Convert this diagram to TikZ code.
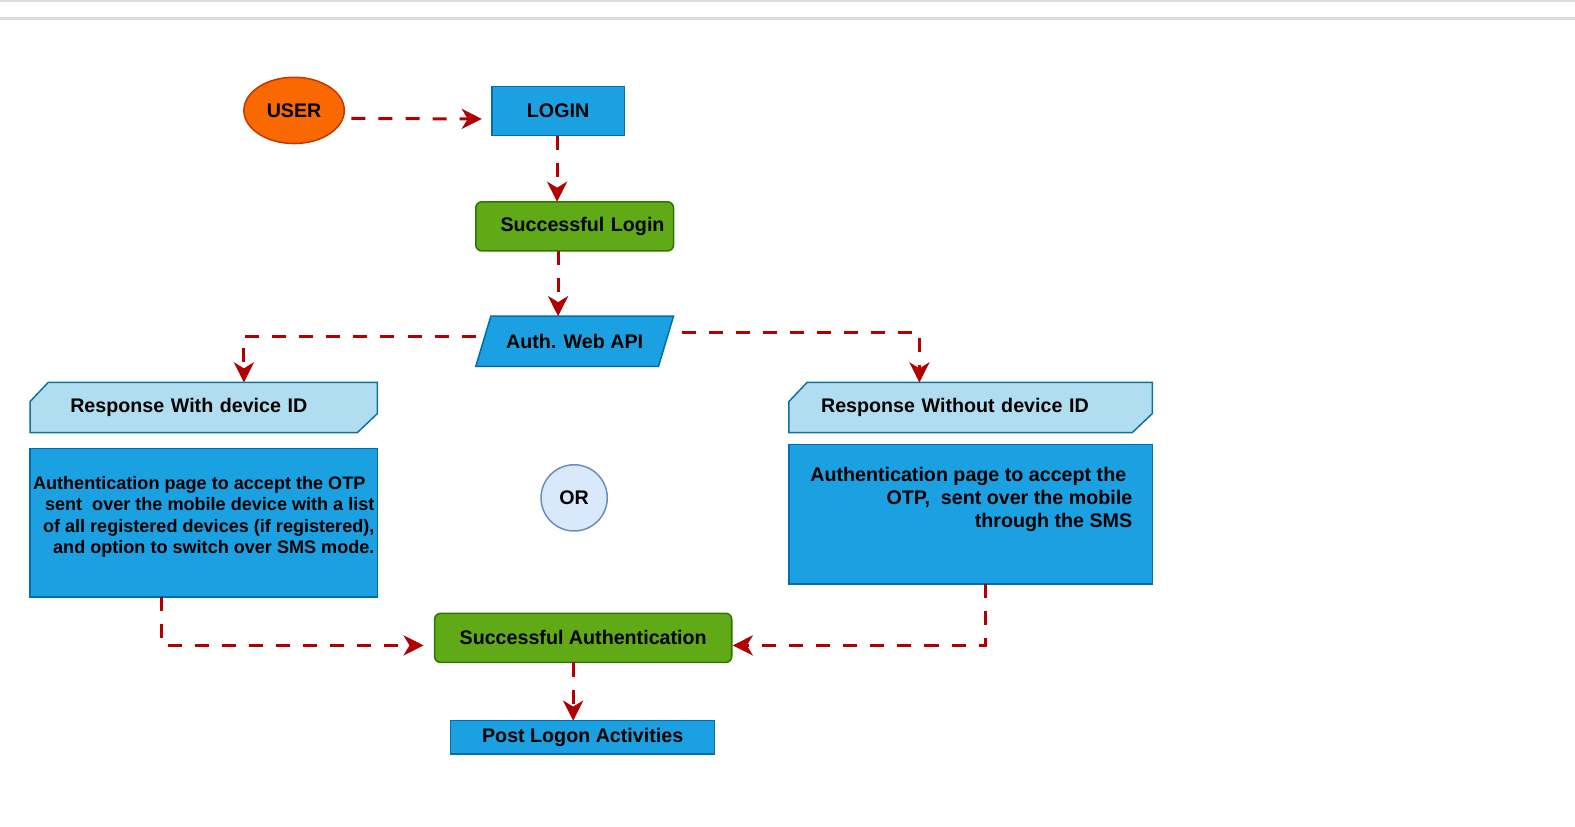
\documentclass[tikz,border=0pt]{standalone}
\usepackage{fontspec}
\setmainfont{Liberation Sans}
\usepackage{xcolor}
\usepackage{tikz}
\usetikzlibrary{shapes.geometric}
\usetikzlibrary{arrows.meta}
\definecolor{boxblue}{HTML}{1BA1E2}
\definecolor{blueline}{HTML}{006EAF}
\definecolor{boxgreen}{HTML}{60A917}
\definecolor{greenline}{HTML}{2D7600}
\definecolor{useror}{HTML}{FA6800}
\definecolor{userline}{HTML}{C73500}
\definecolor{hdrfill}{HTML}{B1DDF0}
\definecolor{hdrline}{HTML}{10739E}
\definecolor{orfill}{HTML}{DAE8FC}
\definecolor{orline}{HTML}{6C8EBF}
\definecolor{arrowred}{HTML}{B20000}
\pgfdeclarelayer{background}
\pgfsetlayers{background,main}

\begin{document}
\begin{tikzpicture}[x=0.5pt, y=-0.5pt,
	every node/.style={font=\fontsize{9.8}{11.5}\selectfont\bfseries, text=black, line width=0.75pt, outer sep=0pt},
	bluebox/.style={rectangle, draw=blueline, fill=boxblue},
	greenbox/.style={rectangle, rounded corners=3pt, draw=greenline, fill=boxgreen},
	hdrbox/.style={rectangle, minimum height=25pt, align=left},
	hdrshape/.style={draw=hdrline, fill=hdrfill, line width=0.75pt},
	flow/.style={draw=arrowred, line width=1.5pt, dash pattern=on 7pt off 6.5pt, -{Stealth[length=10pt, width=10pt, inset=3pt]}}]
	\useasboundingbox (0,0) rectangle (1569.1,823.9);
	\draw[black!14, line width=1pt] (0,0.5) -- (1575,0.5);
	\draw[black!14, line width=1.5pt] (0,18.5) -- (1575,18.5);
	
	% Nodes
	\node[ellipse, draw=userline, fill=useror, minimum width=50pt, minimum height=33pt] (1) at (293,110) {USER};
	\node[bluebox, minimum width=66pt, minimum height=24.5pt] (2) at (556,110.5) {LOGIN};
	\node[greenbox, minimum height=24.5pt, text width=89.5pt, inner xsep=4.5pt, align=right] (3) at (572.5,225.5) {Successful Login};
	\node[trapezium, trapezium left angle=61.6, trapezium right angle=118.4, trapezium stretches body, draw=blueline, fill=boxblue, minimum width=98.5pt, minimum height=25pt] (4) at (572.5,340) {Auth. Web API};
	
	\node[hdrbox, text width=133pt, inner xsep=20pt] (5) at (203,406) {Response With device ID};
	\node[bluebox, minimum width=173pt, minimum height=74pt] (6) at (203,521) {};
	\node[anchor=north east, align=right, inner sep=0pt, font=\fontsize{9}{10.5}\selectfont\bfseries] (6t) at (373,475) {Authentication page to accept the OTP\hspace*{4.5pt}\\ sent\ \ over the mobile device with a list\hspace*{2pt}\\ of all registered devices (if registered),\\ and option to switch over SMS mode.};
	
	\node[hdrbox, text width=149pt, inner xsep=16pt] (7) at (967,406) {Response Without device ID};
	\node[bluebox, minimum width=181pt, minimum height=69.5pt] (8) at (967,512.5) {};
	\node[anchor=north east, align=right, inner sep=0pt] (8t) at (1128,465) {Authentication page to accept the\hspace*{3pt}\\ OTP,\ \ sent over the mobile\\ through the SMS};
	
	\node[circle, draw=orline, fill=orfill, minimum size=33pt, inner sep=0pt] (9) at (572,496) {OR};
	\node[greenbox, minimum width=148pt, minimum height=24.5pt] (10) at (581,635.5) {Successful Authentication};
	\node[bluebox, minimum width=131.5pt, minimum height=16.5pt, inner ysep=0pt] (11) at (580.5,734.5) {Post Logon Activities};
	
	% Cut corner headers
	\begin{pgfonlayer}{background}
		\filldraw[hdrshape] ([yshift=-9.5pt]5.north west) -- ([xshift=9pt]5.north west) -- (5.north east) -- ([yshift=9.5pt]5.south east) -- ([xshift=-10pt]5.south east) -- (5.south west) -- cycle;
		\filldraw[hdrshape] ([yshift=-9.5pt]7.north west) -- ([xshift=9pt]7.north west) -- (7.north east) -- ([yshift=9.5pt]7.south east) -- ([xshift=-10pt]7.south east) -- (7.south west) -- cycle;
	\end{pgfonlayer}
	
	% Dashed arrows
	\draw[flow] ([shift={(3.5pt,-4pt)}]1.east) -- ([shift={(-5pt,-4pt)}]2.west);
	\draw[flow] ([xshift=-0.5pt]2.south) -- ([xshift=-0.5pt]2.south |- 3.north);
	\draw[flow] (3.south -| 2.south) -- (4.north -| 2.south);
	\draw[flow] ([yshift=15pt]4.bottom left corner) -| ([xshift=20pt]5.north);
	\draw[flow] ([shift={(4pt,-8pt)}]4.top right corner) -| ([xshift=-25.5pt]7.north);
	\draw[flow] ([xshift=-21pt]6.south) |- ([shift={(-5.5pt,-3.75pt)}]10.west);
	\draw[flow] ([xshift=7.5pt]8.south) |- ([shift={(0.5pt,-3.75pt)}]10.east);
	\draw[flow] ([xshift=-5pt]10.south) -- ([xshift=-5pt]10.south |- 11.north);
	
\end{tikzpicture}
\end{document}
